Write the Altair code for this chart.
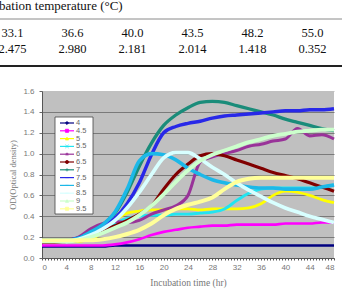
import altair as alt
import pandas as pd

# Sampling times (hr) shared by every pH series
hours = list(range(0, 49, 2))

series_names = ["4", "4.5", "5", "5.5", "6", "6.5", "7", "7.5", "8", "8.5", "9", "9.5"]

od_4   = [0.11, 0.11, 0.11, 0.11, 0.11, 0.11, 0.12, 0.12, 0.12, 0.12, 0.12, 0.12, 0.12,
          0.12, 0.12, 0.12, 0.12, 0.12, 0.12, 0.12, 0.12, 0.12, 0.12, 0.12, 0.12]
od_4_5 = [0.12, 0.12, 0.12, 0.12, 0.12, 0.12, 0.13, 0.15, 0.18, 0.22, 0.25, 0.27, 0.29,
          0.30, 0.31, 0.31, 0.32, 0.32, 0.32, 0.32, 0.33, 0.33, 0.33, 0.34, 0.34]
od_5   = [0.16, 0.16, 0.16, 0.16, 0.18, 0.25, 0.36, 0.43, 0.45, 0.46, 0.46, 0.47, 0.47,
          0.46, 0.47, 0.47, 0.47, 0.48, 0.52, 0.60, 0.64, 0.63, 0.60, 0.56, 0.53]
od_5_5 = [0.16, 0.16, 0.16, 0.18, 0.22, 0.27, 0.33, 0.38, 0.40, 0.41, 0.41, 0.42, 0.42,
          0.43, 0.44, 0.47, 0.55, 0.62, 0.66, 0.67, 0.67, 0.67, 0.67, 0.68, 0.70]
od_6   = [0.16, 0.16, 0.17, 0.20, 0.28, 0.33, 0.35, 0.34, 0.36, 0.42, 0.46, 0.50, 0.60,
          0.92, 0.97, 1.00, 1.03, 1.07, 1.09, 1.12, 1.14, 1.24, 1.17, 1.18, 1.14]
od_6_5 = [0.15, 0.15, 0.16, 0.17, 0.22, 0.27, 0.31, 0.36, 0.42, 0.50, 0.66, 0.80, 0.90,
          0.98, 1.00, 0.98, 0.94, 0.90, 0.86, 0.82, 0.79, 0.76, 0.72, 0.68, 0.64]
od_7   = [0.17, 0.17, 0.17, 0.19, 0.25, 0.32, 0.43, 0.63, 0.88, 1.10, 1.27, 1.37, 1.44,
          1.49, 1.50, 1.49, 1.46, 1.43, 1.40, 1.37, 1.33, 1.30, 1.27, 1.24, 1.22]
od_7_5 = [0.17, 0.17, 0.17, 0.19, 0.24, 0.30, 0.38, 0.52, 0.72, 0.99, 1.20, 1.26, 1.29,
          1.31, 1.34, 1.36, 1.37, 1.38, 1.39, 1.40, 1.41, 1.41, 1.42, 1.42, 1.43]
od_8   = [0.17, 0.17, 0.17, 0.19, 0.25, 0.32, 0.44, 0.66, 0.93, 1.00, 0.99, 0.94, 0.86,
          0.80, 0.75, 0.72, 0.70, 0.68, 0.67, 0.67, 0.66, 0.66, 0.66, 0.68, 0.70]
od_8_5 = [0.16, 0.16, 0.16, 0.18, 0.22, 0.28, 0.36, 0.48, 0.63, 0.80, 0.96, 1.01, 1.01,
          0.95, 0.87, 0.80, 0.72, 0.65, 0.59, 0.53, 0.48, 0.44, 0.40, 0.37, 0.34]
od_9   = [0.16, 0.16, 0.16, 0.17, 0.20, 0.24, 0.29, 0.34, 0.41, 0.50, 0.61, 0.73, 0.84,
          0.93, 0.99, 1.03, 1.07, 1.11, 1.14, 1.17, 1.19, 1.21, 1.22, 1.23, 1.23]
od_9_5 = [0.17, 0.17, 0.17, 0.17, 0.17, 0.18, 0.20, 0.23, 0.27, 0.33, 0.41, 0.47, 0.51,
          0.54, 0.58, 0.66, 0.73, 0.76, 0.77, 0.77, 0.77, 0.77, 0.77, 0.77, 0.77]

series_values = [od_4, od_4_5, od_5, od_5_5, od_6, od_6_5,
                 od_7, od_7_5, od_8, od_8_5, od_9, od_9_5]

# Table above the chart
temperatures = [33.1, 36.6, 40.0, 43.5, 48.2, 55.0]
table_values = [2.475, 2.980, 2.181, 2.014, 1.418, 0.352]

# Styling
colors = ["#000080", "#FF00FF", "#FFFF00", "#22E4F0", "#993399", "#800000",
          "#1A8C7A", "#2828E8", "#1CB8E8", "#D8FFFF", "#CCFFCC", "#FFFF99"]
widths = [2.5, 4, 4, 2, 2, 3, 2, 2, 2, 3, 4, 4]
shapes = ["diamond", "square", "triangle-up", "M-1,-1L1,1M-1,1L1,-1",
          "M-1,0L1,0M0,-1L0,1M-0.7,-0.7L0.7,0.7M-0.7,0.7L0.7,-0.7", "circle",
          "M-1,0L1,0M0,-1L0,1", "M-1,0L1,0", "M-1,0L1,0", "M-1,0L1,0",
          "triangle-up", "square"]

rows = []
for name, vals in zip(series_names, series_values):
    for t, v in zip(hours, vals):
        rows.append({"series": name, "t": t, "od": v})
curves = pd.DataFrame(rows)

legend_df = pd.DataFrame({"series": series_names, "idx": list(range(len(series_names)))})
table_df = pd.DataFrame({"col": list(range(len(temperatures))),
                         "temp": temperatures, "val": table_values})
one = pd.DataFrame({"k": [0]})

color_scale = alt.Scale(domain=series_names, range=colors)

lines = alt.Chart(curves).mark_line(interpolate="monotone").encode(
    x=alt.X("t:Q", scale=alt.Scale(domain=[0, 48], nice=False),
            axis=alt.Axis(values=[i * 0.5 for i in range(97)],
                          labelExpr="datum.value % 4 === 0 ? format(datum.value, 'd') : ''",
                          labelOverlap=False, tickSize=2, tickColor="#555",
                          domainColor="#555", labelColor="#777", labelFontSize=8,
                          labelFont="Liberation Sans", labelPadding=3, grid=False,
                          title="Incubation time (hr)", titleFont="Liberation Serif",
                          titleFontSize=9.5, titleFontWeight="normal",
                          titleColor="#777", titlePadding=6)),
    y=alt.Y("od:Q", scale=alt.Scale(domain=[0, 1.6], nice=False),
            axis=alt.Axis(values=[0, 0.2, 0.4, 0.6, 0.8, 1.0, 1.2, 1.4, 1.6],
                          format=".1f", grid=True,
                          gridColor={"condition": {"test": "datum.value > 1.55",
                                                   "value": "#c0c0c0"},
                                     "value": "#7a7a7a"},
                          tickSize=3, tickColor="#666", domainColor="#555",
                          labelColor="#777", labelFontSize=8,
                          labelFont="Liberation Sans", labelPadding=5,
                          title="OD(Optical density)", titleFont="Liberation Serif",
                          titleFontSize=8.5, titleFontWeight="normal",
                          titleColor="#777", titlePadding=5)),
    color=alt.Color("series:N", scale=color_scale, legend=None),
    strokeWidth=alt.StrokeWidth("series:N",
                                scale=alt.Scale(domain=series_names, range=widths),
                                legend=None),
    detail="series:N",
)

# Legend panel inside the plot
legend_box = alt.Chart(one).mark_rect(fill="white", stroke="#444", strokeWidth=0.8).encode(
    x=alt.value(13), x2=alt.value(51), y=alt.value(26), y2=alt.value(123))

legend_base = alt.Chart(legend_df).transform_calculate(ly="32 + 7.8 * datum.idx")

legend_lines = legend_base.mark_rule(strokeWidth=1.2).encode(
    x=alt.value(18), x2=alt.value(32),
    y=alt.Y("ly:Q", scale=None),
    color=alt.Color("series:N", scale=color_scale, legend=None))

legend_marks = legend_base.mark_point(size=10, filled=False, strokeWidth=0.8,
                                      opacity=1).encode(
    x=alt.value(25),
    y=alt.Y("ly:Q", scale=None),
    shape=alt.Shape("series:N", scale=alt.Scale(domain=series_names, range=shapes),
                    legend=None),
    stroke=alt.Stroke("series:N", scale=alt.Scale(domain=series_names, range=colors),
                      legend=None),
    fill=alt.Fill("series:N", scale=alt.Scale(domain=series_names, range=colors),
                  legend=None))

legend_text = legend_base.mark_text(align="left", baseline="middle", fontSize=7.5,
                                    font="Liberation Sans", color="#666").encode(
    x=alt.value(34), y=alt.Y("ly:Q", scale=None), text="series:N")

# Table drawn above the plot
col_x = alt.X("col:O", scale=alt.Scale(type="point", range=[-29.5, 270.5], padding=0),
              axis=None)

table_head = alt.Chart(one).mark_text(align="left", baseline="alphabetic",
                                      font="Liberation Serif", fontSize=13,
                                      color="#111").encode(
    x=alt.value(-66), y=alt.value(-81), text=alt.value("Incubation temperature (°C)"))

top_rule = alt.Chart(one).mark_rule(color="#8a8a8a", strokeWidth=1).encode(
    x=alt.value(-42), x2=alt.value(300), y=alt.value(-72))
bottom_rule = alt.Chart(one).mark_rule(color="#222", strokeWidth=2).encode(
    x=alt.value(-42), x2=alt.value(300), y=alt.value(-25))

temp_row = alt.Chart(table_df).mark_text(baseline="alphabetic", font="Liberation Serif",
                                         fontSize=12.5, color="#111").encode(
    x=col_x, y=alt.value(-54), text=alt.Text("temp:Q", format=".1f"))
val_row = alt.Chart(table_df).mark_text(baseline="alphabetic", font="Liberation Serif",
                                        fontSize=12.5, color="#111").encode(
    x=col_x, y=alt.value(-38), text=alt.Text("val:Q", format=".3f"))

chart = alt.layer(
    lines, legend_box, legend_lines, legend_marks, legend_text,
    table_head, top_rule, bottom_rule, temp_row, val_row,
).resolve_scale(x="independent").properties(
    width=292, height=167, autosize="none",
    padding={"left": 42, "top": 91, "right": 8, "bottom": 31},
).configure_view(fill="#c0c0c0", stroke=None)

chart.save("out.html", embed_options={"renderer": "svg", "actions": False})
